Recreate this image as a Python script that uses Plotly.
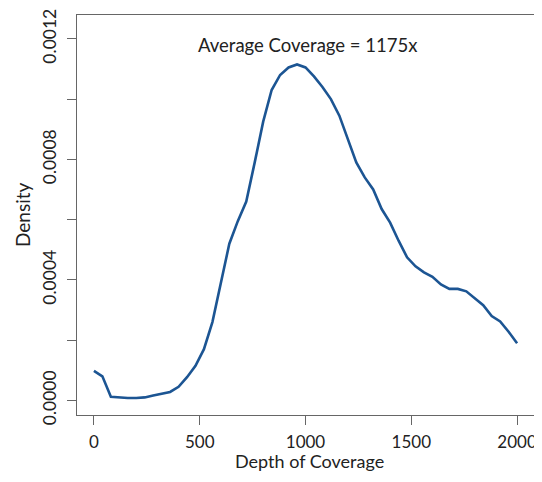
import plotly.graph_objects as go

depth = [0, 40, 80, 120, 160, 200, 240, 280, 320, 360, 400, 440, 480, 520, 560, 600,
         640, 680, 720, 760, 800, 840, 880, 920, 960, 1000, 1040, 1080, 1120, 1160,
         1200, 1240, 1280, 1320, 1360, 1400, 1440, 1480, 1520, 1560, 1600, 1640, 1680,
         1720, 1760, 1800, 1840, 1880, 1920, 1960, 2000]
density = [0.000098, 0.000080, 0.000012, 0.000009, 0.000008, 0.000008, 0.000010,
           0.000016, 0.000022, 0.000028, 0.000045, 0.000077, 0.000115, 0.000170,
           0.000260, 0.000390, 0.000520, 0.000595, 0.000660, 0.000790, 0.000925,
           0.001030, 0.001080, 0.001105, 0.001115, 0.001105, 0.001075, 0.001040,
           0.001000, 0.000945, 0.000870, 0.000790, 0.000740, 0.000700, 0.000635,
           0.000590, 0.000530, 0.000475, 0.000445, 0.000425, 0.000410, 0.000385,
           0.000370, 0.000370, 0.000362, 0.000340, 0.000316, 0.000280, 0.000262,
           0.000228, 0.000190]

x_ticks = [0, 500, 1000, 1500, 2000]
y_ticks = [0.0, 0.0002, 0.0004, 0.0006, 0.0008, 0.0010, 0.0012]
y_ticktext = ["0.0000", "", "0.0004", "", "0.0008", "", "0.0012"]
annotation_text = "Average Coverage = 1175x"
x_title = "Depth of Coverage"
y_title = "Density"

FONT = "Lato"
TXT = "#222222"
AX = "#666666"

fig = go.Figure()
fig.add_trace(go.Scatter(x=depth, y=density, mode="lines",
                         line=dict(color="#1c5593", width=2.6), showlegend=False))

fig.add_annotation(x=1011, y=0.00118, text=annotation_text, showarrow=False,
                   font=dict(family=FONT, size=18.5, color=TXT), xanchor="center", yanchor="middle")
# axis titles
fig.add_annotation(x=0.5, y=0, xref="paper", yref="paper", text=x_title, showarrow=False,
                   xanchor="center", yanchor="middle", yshift=-46, xshift=4, borderpad=0,
                   font=dict(family=FONT, size=18, color=TXT))
fig.add_annotation(x=0, y=0.5, xref="paper", yref="paper", text=y_title, showarrow=False,
                   xanchor="center", yanchor="middle", xshift=-55, textangle=-90,
                   font=dict(family=FONT, size=19, color=TXT))

# the page body has an 8px margin, so the figure is sized to fit the window exactly
fig.update_layout(
    width=534, height=466,
    margin=dict(l=69, r=8, t=7, b=59),
    paper_bgcolor="white", plot_bgcolor="white",
    font=dict(family=FONT, size=17, color=TXT),
)
fig.update_xaxes(range=[-80, 2080], tickvals=x_ticks, ticktext=[str(v) for v in x_ticks],
                 automargin=False,
                 showgrid=False, zeroline=False, showline=True, linecolor=AX, linewidth=1.2,
                 mirror=True, ticks="outside", ticklen=9, tickcolor=AX, tickwidth=1.2,
                 tickfont=dict(family=FONT, size=17, color=TXT), ticklabelstandoff=2)
fig.update_yaxes(range=[-0.0000484, 0.001279], tickvals=y_ticks, ticktext=y_ticktext,
                 tickangle=-90, automargin=False,
                 showgrid=False, zeroline=False, showline=True, linecolor=AX, linewidth=1.2,
                 mirror=True, ticks="outside", ticklen=9, tickcolor=AX, tickwidth=1.2,
                 tickfont=dict(family=FONT, size=17.5, color=TXT), ticklabelstandoff=4)

fig.write_html("out.html")
